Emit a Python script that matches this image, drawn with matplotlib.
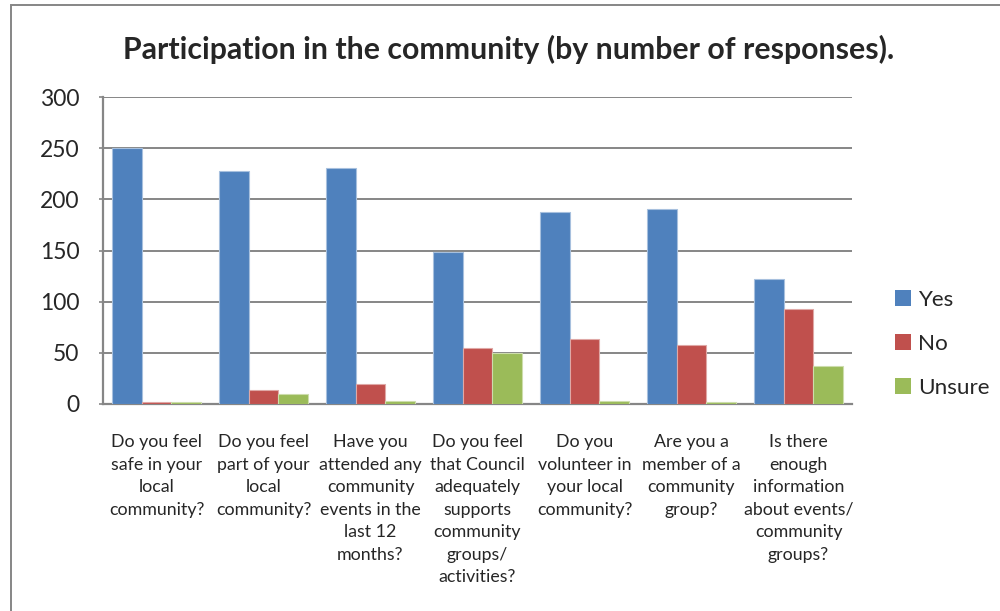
import matplotlib
matplotlib.use("Agg")
import matplotlib.pyplot as plt
import numpy as np
from matplotlib.patches import Rectangle, Patch

questions = [
    "Do you feel\nsafe in your\nlocal\ncommunity?",
    "Do you feel\npart of your\nlocal\ncommunity?",
    "Have you\nattended any\ncommunity\nevents in the\nlast 12\nmonths?",
    "Do you feel\nthat Council\nadequately\nsupports\ncommunity\ngroups/\nactivities?",
    "Do you\nvolunteer in\nyour local\ncommunity?",
    "Are you a\nmember of a\ncommunity\ngroup?",
    "Is there\nenough\ninformation\nabout events/\ncommunity\ngroups?",
]
series_names = ["Yes", "No", "Unsure"]
yes_counts = [250, 228, 231, 149, 188, 191, 122]
no_counts = [2, 14, 19, 55, 63, 58, 93]
unsure_counts = [2, 10, 3, 50, 3, 2, 37]
y_ticks = [0, 50, 100, 150, 200, 250, 300]

colors = ["#4F81BD", "#C0504D", "#9BBB59"]
edges = ["#A7C0DE", "#DFA8A6", "#CDDDAC"]

plt.rcParams["font.family"] = ["Lato", "DejaVu Sans"]
text_color = "#262626"

fig = plt.figure(figsize=(10, 6.11), dpi=100)
ax = fig.add_axes([0.103, 0.339, 0.749, 0.502])

x = np.arange(len(questions))
width = 0.28
for i, (vals, name) in enumerate(zip([yes_counts, no_counts, unsure_counts], series_names)):
    ax.bar(x + (i - 1) * width, vals, width, color=colors[i], edgecolor=edges[i],
           linewidth=0.8, label=name, zorder=3)

ax.set_xlim(-0.5, len(questions) - 0.5)
ax.set_ylim(0, 300)
ax.set_yticks(y_ticks)
ax.set_yticklabels([str(v) for v in y_ticks], fontsize=16.5, color=text_color)
ax.tick_params(axis="y", length=3, width=1.2, color="#868686", pad=14)
ax.set_xticks(x)
ax.set_xticklabels(questions, fontsize=12.8, color=text_color, linespacing=1.5)
ax.tick_params(axis="x", length=0, pad=22)
ax.grid(axis="y", color="#868686", linewidth=1.4, zorder=0)
for s in ["top", "right"]:
    ax.spines[s].set_visible(False)
for s in ["left", "bottom"]:
    ax.spines[s].set_color("#868686")
    ax.spines[s].set_linewidth(1.6)

handles = [Patch(facecolor=c, edgecolor="none") for c in colors]
fig.legend(handles, series_names, loc="upper left", bbox_to_anchor=(0.875, 0.558),
           frameon=False, fontsize=16.2, handlelength=0.72, handleheight=0.72,
           handletextpad=0.3, labelspacing=1.05, labelcolor=text_color)

fig.text(0.509, 0.919, "Participation in the community (by number of responses).",
         ha="center", va="center", fontsize=21.8, fontweight="bold", color=text_color)

# chart frame
fig.add_artist(Rectangle((0.0105, -0.05), 1.2, 1.042, transform=fig.transFigure,
                         fill=False, edgecolor="#868686", linewidth=1.4))

fig.savefig("out.png", dpi=100, facecolor="white")
